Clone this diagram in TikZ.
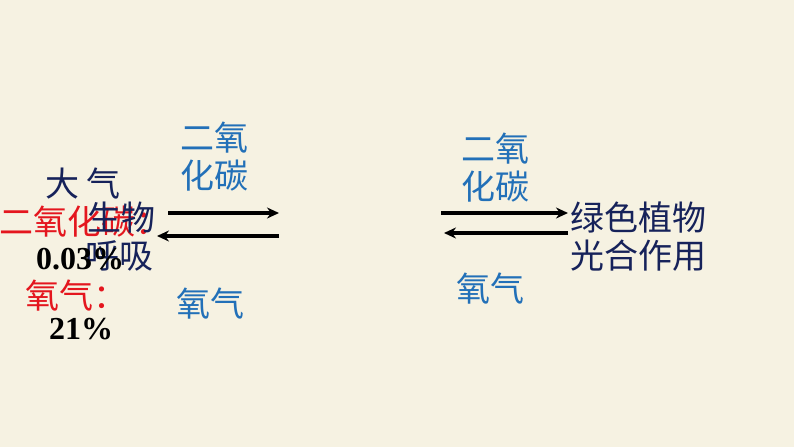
\documentclass[tikz,border=0pt]{standalone}
\usepackage{fontspec}
\newfontfamily\cjk{Noto Sans CJK SC}
\newfontfamily\tms{Liberation Serif}
\usetikzlibrary{arrows.meta}
\definecolor{bgc}{RGB}{246,242,226}
\definecolor{navy}{RGB}{22,34,90}
\definecolor{lblue}{RGB}{34,112,184}
\definecolor{myred}{RGB}{228,22,30}
\tikzset{
  cn/.style={inner sep=0pt, font=\cjk\fontsize{34}{36}\selectfont},
  navytxt/.style={cn, text=navy},
  bluetxt/.style={cn, text=lblue},
  redtxt/.style={cn, text=myred},
  numtxt/.style={inner sep=0pt, font=\tms\bfseries\fontsize{32}{34}\selectfont, text=black},
  flow/.style={line width=3.4pt, -{Stealth[length=12pt,width=11pt]}}
}
\begin{document}
\begin{tikzpicture}[x=1pt,y=-1pt]
\fill[bgc] (0,0) rectangle (794,447);
\useasboundingbox (0,0) rectangle (794,447);
% left block
\node[navytxt] (daqi) at (83,184) {大\hspace{8pt}气};
\node[redtxt] (co2r) at (84,222) {二氧化碳：};
\node[navytxt] (shengwu) at (121,218) {生物};
\node[navytxt] (huxi) at (119,256) {呼吸};
\node[numtxt] (pct1) at (80,259) {0.03\%};
\node[redtxt] (o2r) at (76,296) {氧气：};
\node[numtxt] (pct2) at (81,329) {21\%};
% left labels
\node[bluetxt] (lco2a) at (214,138) {二氧};
\node[bluetxt] (lco2b) at (214,176) {化碳};
\node[bluetxt] (lo2) at (210,304) {氧气};
% right labels
\node[bluetxt] (rco2a) at (495,149) {二氧};
\node[bluetxt] (rco2b) at (495,187) {化碳};
\node[bluetxt] (ro2) at (490,289) {氧气};
\node[navytxt] (lvse) at (638,217) {绿色植物};
\node[navytxt] (guanghe) at (638,256) {光合作用};
% arrows
\coordinate (la1) at (168,213);
\coordinate (la2) at (279,213);
\coordinate (lb1) at (279,236);
\coordinate (lb2) at (157,236);
\coordinate (ra1) at (441,213);
\coordinate (ra2) at (568,213);
\coordinate (rb1) at (568,233);
\coordinate (rb2) at (444,233);
\draw[flow] (la1) -- (la2);
\draw[flow] (lb1) -- (lb2);
\draw[flow] (ra1) -- (ra2);
\draw[flow] (rb1) -- (rb2);
\end{tikzpicture}
\end{document}
